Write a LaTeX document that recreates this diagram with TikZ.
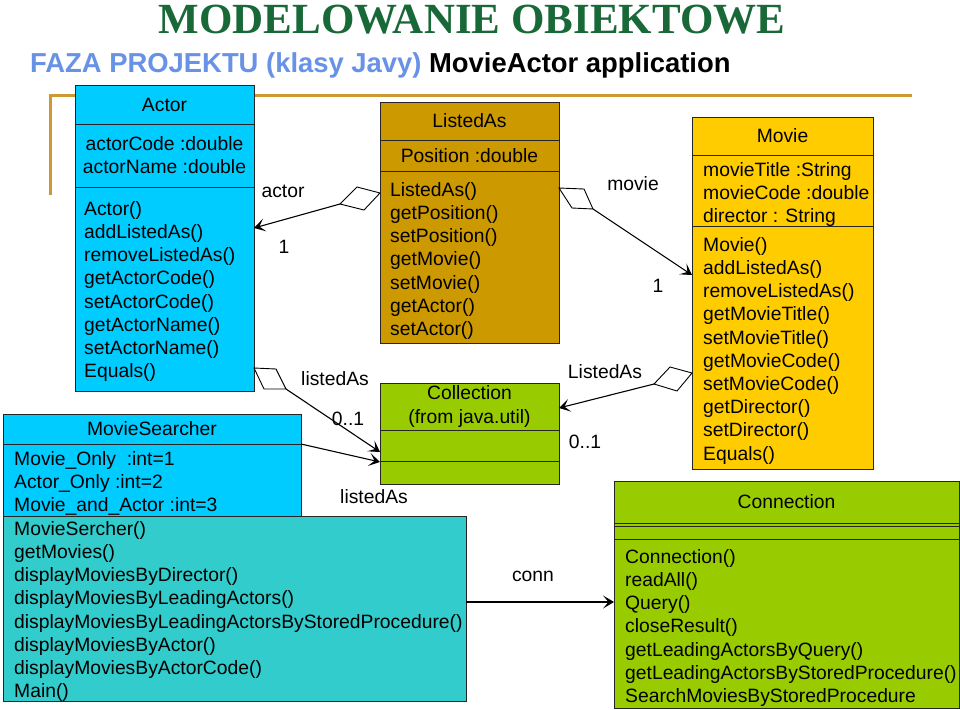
\documentclass[tikz,border=0pt]{standalone}
\usepackage{fontspec}
\setmainfont{Liberation Sans}
\newfontfamily\ttlfont{Liberation Serif}
\usetikzlibrary{arrows.meta}
\definecolor{cyanbox}{RGB}{0,204,255}
\definecolor{tealbox}{RGB}{51,204,204}
\definecolor{goldbox}{RGB}{204,153,0}
\definecolor{greenbox}{RGB}{153,204,0}
\definecolor{yellowbox}{RGB}{255,204,0}
\definecolor{framegold}{RGB}{204,153,51}
\definecolor{titlegreen}{RGB}{24,104,56}
\definecolor{subblue}{RGB}{104,146,230}
\newcommand\bodyfs{\fontsize{19.3}{23.2}\selectfont}
\newcommand\fst{\rule{0pt}{16pt}}
\begin{document}
\begin{tikzpicture}[x=1pt,y=-1pt,
 cls/.style={draw=black!85, line width=0.8pt, inner sep=0pt, outer sep=0pt, anchor=north west},
 ttl/.style={font=\bodyfs, inner sep=0pt, align=center},
 mlist/.style={font=\bodyfs, inner sep=0pt, align=left, anchor=north west},
 lbl/.style={font=\bodyfs, inner sep=0pt},
 dia/.style={draw=black, line width=0.9pt, fill=white, line join=miter},
 assoc/.style={draw=black, line width=1.1pt, -{Stealth[length=11pt,width=13pt,inset=5.5pt]}}]
\useasboundingbox (0,0) rectangle (960,709);
\fill[white] (0,0) rectangle (960,709);

% titles
\node[inner sep=0pt, anchor=base, text=titlegreen, font=\ttlfont\bfseries\fontsize{43}{46}\selectfont] (title) at (472,34) {MODELOWANIE OBIEKTOWE};
\node[inner sep=0pt, anchor=base west, font=\bfseries\fontsize{27.4}{30}\selectfont] (subtitle) at (30,72) {\textcolor{subblue}{FAZA PROJEKTU (klasy Javy)} MovieActor application};

% frame line
\draw[framegold, line width=3pt] (50,195) -- (50,95) -- (912,95);

% Actor
\node[cls, fill=cyanbox, minimum width=179pt, minimum height=39pt] (actorH) at (75,85) {};
\node[cls, fill=cyanbox, minimum width=179pt, minimum height=63pt] (actorA) at (75,124) {};
\node[cls, fill=cyanbox, minimum width=179pt, minimum height=204pt] (actorM) at (75,187) {};
\node[ttl] (actorT) at (actorH.center) {Actor};
\node[ttl] (actorAt) at (actorA.center) {actorCode :double\\actorName :double};
\node[mlist] (actorMt) at ([xshift=9pt,yshift=-12pt]actorM.north west) {\fst Actor()\\addListedAs()\\removeListedAs()\\getActorCode()\\setActorCode()\\getActorName()\\setActorName()\\Equals()};

% ListedAs
\node[cls, fill=goldbox, minimum width=179pt, minimum height=38pt] (laH) at (380,102) {};
\node[cls, fill=goldbox, minimum width=179pt, minimum height=31pt] (laA) at (380,140) {};
\node[cls, fill=goldbox, minimum width=179pt, minimum height=172pt] (laM) at (380,171) {};
\node[ttl] (laT) at (laH.center) {ListedAs};
\node[ttl] (laAt) at (laA.center) {Position :double};
\node[mlist] (laMt) at ([xshift=10pt,yshift=-9pt]laM.north west) {\fst ListedAs()\\getPosition()\\setPosition()\\getMovie()\\setMovie()\\getActor()\\setActor()};

% Collection
\node[cls, fill=greenbox, minimum width=179pt, minimum height=47pt] (colH) at (380,383) {};
\node[cls, fill=greenbox, minimum width=179pt, minimum height=31pt] (colA) at (380,430) {};
\node[cls, fill=greenbox, minimum width=179pt, minimum height=23pt] (colM) at (380,461) {};
\node[ttl] (colT) at (colH.center) {Collection\\(from java.util)};

% Movie
\node[cls, fill=yellowbox, minimum width=181pt, minimum height=38pt] (mvH) at (692,117) {};
\node[cls, fill=yellowbox, minimum width=181pt, minimum height=71pt] (mvA) at (692,155) {};
\node[cls, fill=yellowbox, minimum width=181pt, minimum height=243pt] (mvM) at (692,226) {};
\node[ttl] (mvT) at (mvH.center) {Movie};
\node[mlist] (mvAt) at ([xshift=11pt,yshift=-5pt]mvA.north west) {\fst movieTitle :String\\movieCode :double\\director : String};
\node[mlist] (mvMt) at ([xshift=11pt,yshift=-9pt]mvM.north west) {\fst Movie()\\addListedAs()\\removeListedAs()\\getMovieTitle()\\setMovieTitle()\\getMovieCode()\\setMovieCode()\\getDirector()\\setDirector()\\Equals()};

% MovieSearcher
\node[cls, fill=cyanbox, minimum width=298pt, minimum height=30pt] (msH) at (3,414) {};
\node[cls, fill=cyanbox, minimum width=298pt, minimum height=72pt] (msA) at (3,444) {};
\node[cls, fill=tealbox, minimum width=463pt, minimum height=185pt] (msM) at (3,516) {};
\node[ttl] (msT) at (msH.center) {MovieSearcher};
\node[mlist] (msAt) at ([xshift=11pt,yshift=-5pt]msA.north west) {\fst Movie\_Only\ \ :int=1\\Actor\_Only :int=2\\Movie\_and\_Actor :int=3};
\node[mlist] (msMt) at ([xshift=11pt,yshift=-3pt]msM.north west) {\fst MovieSercher()\\getMovies()\\displayMoviesByDirector()\\displayMoviesByLeadingActors()\\displayMoviesByLeadingActorsByStoredProcedure()\\displayMoviesByActor()\\displayMoviesByActorCode()\\Main()};

% Connection
\node[cls, fill=greenbox, minimum width=345pt, minimum height=42pt] (cnH) at (614,481) {};
\node[cls, fill=greenbox, minimum width=345pt, minimum height=16pt] (cnA) at (614,523) {};
\node[cls, fill=greenbox, minimum width=345pt, minimum height=169pt] (cnM) at (614,539) {};
\draw[black!85, line width=0.8pt] ([yshift=-3pt]cnA.north west) -- ([yshift=-3pt]cnA.north east);
\node[ttl] (cnT) at (cnH.center) {Connection};
\node[mlist] (cnMt) at ([xshift=11pt,yshift=-8pt]cnM.north west) {\fst Connection()\\readAll()\\Query()\\closeResult()\\getLeadingActorsByQuery()\\getLeadingActorsByStoredProcedure()\\SearchMoviesByStoredProcedure};

% diamonds
\draw[dia] (380,193) -- (357,187) -- (340,204) -- (364,210) -- cycle;
\coordinate (dA) at (340,204);
\draw[dia] (254,368) -- (276,369) -- (286,389) -- (264,389) -- cycle;
\coordinate (dB) at (286,389);
\draw[dia] (559,188) -- (584,189) -- (593,209) -- (572,208) -- cycle;
\coordinate (dC) at (593,209);
\draw[dia] (692,373) -- (670,367) -- (654,384) -- (677,391) -- cycle;
\coordinate (dD) at (654,384);

% connectors
\draw[assoc] (dA) -- ([yshift=61pt]actorM.east);
\draw[assoc] (dB) -- ([yshift=-6.5pt]colA.west);
\draw[assoc] (msA.north east) -- ([yshift=-1pt]colM.north west);
\draw[assoc] (dC) -- ([yshift=72.5pt]mvM.west);
\draw[assoc] (dD) -- ([yshift=-1.5pt]colH.east);
\draw[assoc] ([yshift=6.5pt]msM.east) -- ([yshift=21.5pt]cnM.west);

% labels
\node[lbl] (l1) at (283,191) {actor};
\node[lbl] (l2) at (284,247) {1};
\node[lbl] (l3) at (335,379) {listedAs};
\node[lbl] (l4) at (348,419) {0..1};
\node[lbl] (l5) at (374,497) {listedAs};
\node[lbl] (l6) at (633,184) {movie};
\node[lbl] (l7) at (658,286) {1};
\node[lbl] (l8) at (605,372) {ListedAs};
\node[lbl] (l9) at (585,442) {0..1};
\node[lbl] (l10) at (533,576) {conn};
\end{tikzpicture}
\end{document}
